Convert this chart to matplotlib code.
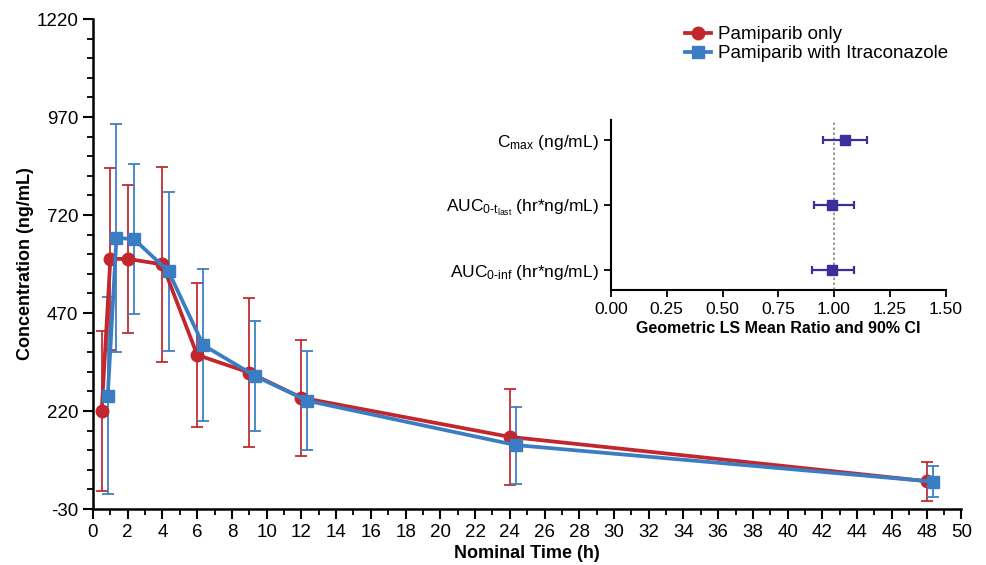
import numpy as np
import matplotlib.pyplot as plt
from matplotlib.ticker import MultipleLocator, FixedLocator

plt.rcParams['font.family'] = ['Liberation Sans', 'DejaVu Sans']
plt.rcParams['mathtext.fontset'] = 'custom'
plt.rcParams['mathtext.rm'] = 'Liberation Sans'
plt.rcParams['mathtext.it'] = 'Liberation Sans:italic'
plt.rcParams['mathtext.bf'] = 'Liberation Sans:bold'
plt.rcParams['axes.unicode_minus'] = False

# nominal sampling times (h)
times = [0.5, 1, 2, 4, 6, 9, 12, 24, 48]

# Pamiparib only: mean and SD (ng/mL)
pami_mean = [220, 608, 608, 594, 363, 318, 254, 154, 41]
pami_sd = [205, 232, 189, 248, 184, 189, 148, 122, 50]

# Pamiparib with Itraconazole: mean and SD (ng/mL)
itra_mean = [259, 661, 659, 576, 388, 309, 246, 133, 40]
itra_sd = [252, 290, 192, 203, 194, 141, 126, 98, 40]

# inset: geometric LS mean ratio and 90% CI
params = [r'C$_{\mathrm{max}}$ (ng/mL)',
          r'AUC$_{\mathrm{0\text{-}t}_{\mathrm{last}}}$ (hr*ng/mL)',
          r'AUC$_{\mathrm{0\text{-}inf}}$ (hr*ng/mL)']
ratio = [1.05, 0.99, 0.99]
ci_low = [0.95, 0.91, 0.90]
ci_high = [1.15, 1.09, 1.09]

red = '#C1272D'
blue = '#3A7DC2'
purple = '#3A2F9B'

fig = plt.figure(figsize=(9.86, 5.65), dpi=100)
ax = fig.add_axes([93 / 986, 56 / 565, 868.3 / 986, 490 / 565])

t = np.array(times)
nudge = 0.35  # horizontal offset of the second series, as in the original

ax.errorbar(t, pami_mean, yerr=pami_sd, fmt='none', ecolor=red, elinewidth=1.4,
            capsize=4.5, capthick=1.4, alpha=0.9, zorder=2)
ax.errorbar(t + nudge, itra_mean, yerr=itra_sd, fmt='none', ecolor=blue, elinewidth=1.4,
            capsize=4.5, capthick=1.4, alpha=0.9, zorder=3)
ax.plot(t, pami_mean, color=red, lw=2.7, marker='o', ms=9, zorder=4, label='Pamiparib only')
ax.plot(t + nudge, itra_mean, color=blue, lw=2.7, marker='s', ms=9, zorder=5,
        label='Pamiparib with Itraconazole')

ax.set_xlim(0, 50)
ax.set_ylim(-30, 1220)
ax.xaxis.set_major_locator(MultipleLocator(2))
ax.xaxis.set_minor_locator(MultipleLocator(1))
ax.yaxis.set_major_locator(FixedLocator(np.arange(-30, 1221, 250)))
ax.yaxis.set_minor_locator(FixedLocator(np.arange(-30, 1221, 50)))
ax.tick_params(which='major', direction='out', length=7, width=1.5, labelsize=13.5, color='black')
ax.tick_params(which='minor', direction='out', length=4, width=1.3)
for s in ['top', 'right']:
    ax.spines[s].set_visible(False)
for s in ['left', 'bottom']:
    ax.spines[s].set_linewidth(1.8)

ax.set_xlabel('Nominal Time (h)', fontsize=13, fontweight='bold', labelpad=3)
ax.set_ylabel('Concentration (ng/mL)', fontsize=13, fontweight='bold', labelpad=2)

ax.legend(loc='upper left', bbox_to_anchor=(672 / 986, 1 - 13 / 565),
          bbox_transform=fig.transFigure, frameon=False, fontsize=13.5,
          handlelength=1.4, handletextpad=0.35, labelspacing=0.1, borderpad=0.2)

# inset forest plot
ins = fig.add_axes([611 / 986, 275.3 / 565, 334.5 / 986, 169.7 / 565])
ypos = np.arange(len(params))
r = np.array(ratio)
xerr = [r - np.array(ci_low), np.array(ci_high) - r]
ins.axvline(1.0, color='#888888', lw=1.2, ls=(0, (1.5, 1.5)), zorder=1)
ins.errorbar(r, ypos, xerr=xerr, fmt='s', color=purple, ms=7, elinewidth=1.6,
             capsize=3, capthick=1.6, zorder=3)
ins.set_xlim(0, 1.5)
ins.set_ylim(len(params) - 1 + 0.31, -0.31)
ins.set_yticks(ypos)
ins.set_yticklabels(params)
ins.xaxis.set_major_locator(MultipleLocator(0.25))
ins.xaxis.set_major_formatter(plt.FuncFormatter(lambda v, p: f'{v:.2f}'))
ins.tick_params(direction='out', length=5, width=1.3, labelsize=12.5)
for s in ['top', 'right']:
    ins.spines[s].set_visible(False)
for s in ['left', 'bottom']:
    ins.spines[s].set_linewidth(1.5)
ins.set_xlabel('Geometric LS Mean Ratio and 90% CI', fontsize=11.5, fontweight='bold', labelpad=3)

fig.savefig('out.png', dpi=100)
